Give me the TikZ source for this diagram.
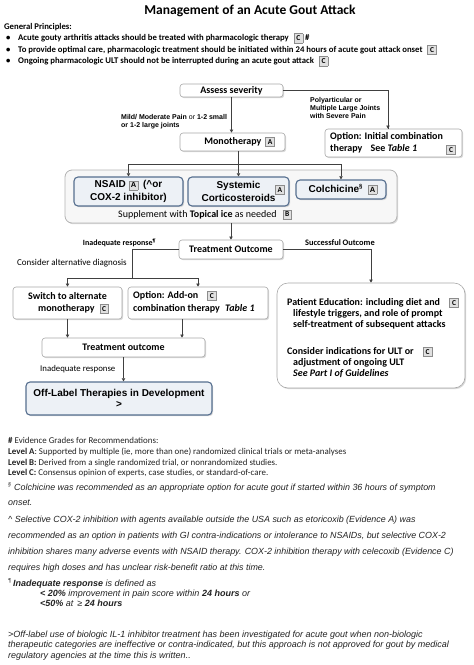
\documentclass[tikz,border=0pt]{standalone}
\usepackage{fontspec}
\setmainfont{Carlito}
\newfontfamily\arialf{Liberation Sans}
\usetikzlibrary{arrows.meta,shadows}
\definecolor{slateb}{HTML}{566F8F}
\definecolor{bluefill}{HTML}{EDF1F6}
\definecolor{contf}{HTML}{F7F7F7}
\definecolor{contb}{HTML}{B3B3B3}
\definecolor{boxb}{HTML}{A8A8A8}
\definecolor{conn}{HTML}{404040}
\definecolor{badgef}{HTML}{E0E0E0}
\definecolor{badgeb}{HTML}{8C8C8C}
\definecolor{fnote}{HTML}{222222}
\newcommand{\grd}[1]{{\setlength{\fboxsep}{0.8pt}\setlength{\fboxrule}{0.6pt}\fcolorbox{badgeb}{badgef}{\parbox[c][7pt][c]{6.5pt}{\centering\fontsize{7.5}{7.5}\selectfont\bfseries #1}}}}
\begin{document}
\begin{tikzpicture}[x=1pt,y=-1pt,
  shad/.style={drop shadow={shadow xshift=1.2pt,shadow yshift=-1.2pt,opacity=0.3}},
  rbox/.style={draw=boxb, line width=0.6pt, fill=white, rounded corners=3pt, shad, inner sep=1pt, align=center, font=\fontsize{10}{12.5}\selectfont\bfseries},
  bbox/.style={draw=slateb, line width=1.1pt, fill=bluefill, rounded corners=4pt, shad, inner sep=1pt, align=center, font=\arialf\fontsize{10}{12.5}\selectfont\bfseries},
  cont/.style={draw=contb, line width=0.8pt, fill=contf, rounded corners=7pt, shad},
  conn/.style={draw=conn, line width=0.8pt},
  arr/.style={conn, -{Triangle[length=3.2pt,width=3.4pt]}},
  badge/.style={inner sep=0pt},
  lbl/.style={inner sep=0pt, anchor=base west},
  bp/.style={lbl, font=\fontsize{8.7}{10}\selectfont\bfseries},
  smalla/.style={inner sep=0pt, anchor=north west, align=left, font=\arialf\fontsize{7}{8}\selectfont\bfseries},
  fnc/.style={lbl, text=fnote, font=\fontsize{8.9}{10}\selectfont},
  fna/.style={lbl, text=fnote, font=\arialf\fontsize{8.9}{10}\selectfont\itshape},
  fnb/.style={lbl, text=fnote, font=\arialf\fontsize{9}{10}\selectfont\itshape},
  pet/.style={lbl, font=\fontsize{10}{12}\selectfont\bfseries}
]
\useasboundingbox (0,0) rectangle (474,665);

% title and principles
\node[inner sep=0pt, font=\fontsize{13.5}{16}\selectfont\bfseries] (title) at (250,11) {Management of an Acute Gout Attack};
\node[bp] (gp) at (4,29) {General Principles:};
\node[bp] (k1) at (6,40.5) {•};
\node[bp] (p1) at (18,40.5) {Acute gouty arthritis attacks should be treated with pharmacologic therapy\hspace{5pt}\grd{C}\hspace{2pt}\#};
\node[bp] (k2) at (6,52) {•};
\node[bp] (p2) at (18,52) {To provide optimal care, pharmacologic treatment should be initiated within 24 hours of acute gout attack onset\hspace{5pt}\grd{C}};
\node[bp] (k3) at (6,63.5) {•};
\node[bp] (p3) at (18,63.5) {Ongoing pharmacologic ULT should not be interrupted during an acute gout attack\hspace{5pt}\grd{C}};

% severity
\node[rbox, minimum width=103pt, minimum height=13pt] (assess) at (231.5,90.5) {Assess severity};
\node[rbox, minimum width=105pt, minimum height=18pt] (mono) at (232.5,142) {\hspace{14pt}Monotherapy\hspace{4pt}\grd{A}};
\node[rbox, minimum width=137pt, minimum height=28pt] (opt) at (393.5,143) {};
\node[inner sep=0pt, anchor=north west, align=left, font=\fontsize{10}{12.5}\selectfont\bfseries] (optt) at (330,132) {Option: Initial combination\\therapy\hspace{6pt} See \textit{Table 1}};
\node[badge] (optb) at (451,150) {\grd{C}};
\node[smalla] (poly) at (310,97) {Polyarticular or\\Multiple Large Joints\\with Severe Pain};
\node[smalla] (mild) at (121,114) {Mild/ Moderate Pain \textmd{or} 1-2 small\\or 1-2 large joints};
\coordinate (optin) at (388,129);
\draw[conn] (assess.east) -| (optin);
\draw[arr] (optin) ++(0,-1) -- (opt.north -| optin);
\draw[arr] (assess.south) -- (assess.south |- mono.north);

% first-line therapies
\node[cont, minimum width=332pt, minimum height=53pt] (contain) at (231,196.5) {};
\node[bbox, minimum width=109pt, minimum height=29pt] (nsaid) at (128.5,191.5) {NSAID\hspace{3pt}\grd{A}\hspace{5pt}(\textasciicircum or\\COX-2 inhibitor)};
\node[bbox, minimum width=101pt, minimum height=29pt] (sys) at (238.5,191.5) {Systemic\\Corticosteroids};
\node[badge] (sysb) at (280,190) {\grd{A}};
\node[bbox, minimum width=90pt, minimum height=19pt] (colch) at (341,189.5) {\hspace{4pt}Colchicine\textsuperscript{\fontsize{6}{6}\selectfont§}\hspace{5pt}\grd{A}};
\node[inner sep=0pt, font=\fontsize{10}{11}\selectfont] (supp) at (205,214.5) {Supplement with \textbf{Topical ice} as needed\hspace{6pt}\grd{B}};
\coordinate (split) at (238.5,164);
\draw[conn] (sys.north |- mono.south) -- (split);
\draw[conn] (nsaid.north |- split) -- (colch.north |- split);
\draw[arr] (nsaid.north |- split) -- (nsaid.north);
\draw[arr] (split) -- (sys.north);
\draw[arr] (colch.north |- split) -- (colch.north);

% outcome
\node[rbox, minimum width=104pt, minimum height=19pt] (outc) at (231,249.5) {Treatment Outcome};
\draw[arr] (contain.south -| outc.north) -- (outc.north);
\node[inner sep=0pt, font=\fontsize{8}{10}\selectfont\bfseries] (inad) at (119.5,243) {Inadequate response\textsuperscript{\fontsize{5}{5}\selectfont¶}};
\node[inner sep=0pt, font=\fontsize{8.4}{10}\selectfont\bfseries] (succ) at (340,243) {Successful Outcome};
\node[inner sep=0pt, anchor=west, font=\fontsize{9}{10}\selectfont] (alt) at (17,263.5) {Consider alternative diagnosis};

% left branch
\node[rbox, minimum width=109pt, minimum height=32pt] (switch) at (67.5,303) {Switch to alternate\\\hspace{12pt}monotherapy\hspace{5pt}\grd{C}};
\node[rbox, minimum width=140pt, minimum height=32pt] (addon) at (198,303) {};
\node[inner sep=0pt, anchor=north west, align=left, font=\fontsize{10}{12.5}\selectfont\bfseries] (addont) at (133,291) {Option: Add-on\hspace{9pt}\grd{C}\\combination therapy\hspace{3pt} \textit{Table 1}};
\coordinate (lsplit) at (132,278);
\draw[conn] (outc.west) -| (lsplit);
\draw[conn] (switch.north |- lsplit) -- (addon.north |- lsplit);
\draw[arr] (switch.north |- lsplit) -- (switch.north);
\draw[arr] (addon.north |- lsplit) -- (addon.north);

\node[rbox, minimum width=163pt, minimum height=19pt] (tout) at (123.5,347.5) {Treatment outcome};
\coordinate (addonout) at (182,319);
\draw[arr] (switch.south) -- (switch.south |- tout.north);
\draw[arr] (addonout) -- (addonout |- tout.north);
\node[inner sep=0pt, anchor=west, font=\fontsize{8.8}{10}\selectfont] (inad2) at (40,369) {Inadequate response};
\node[bbox, minimum width=186pt, minimum height=33pt, font=\arialf\fontsize{10}{11}\selectfont\bfseries] (offl) at (119,398.5) {Off-Label Therapies in Development\\>};
\draw[arr] (tout.south) -- (tout.south |- offl.north);

% right branch
\node[rbox, rounded corners=11pt, minimum width=188pt, minimum height=105pt] (patient) at (371,335.5) {};
\draw[arr] (outc.east) -| (patient.north);
\node[pet] (pe1) at (287,305.5) {Patient Education: including diet and};
\node[pet] (pe2) at (293,316.5) {lifestyle triggers, and role of prompt};
\node[pet] (pe3) at (293,327.5) {self-treatment of subsequent attacks};
\node[badge] (peb) at (454,303) {\grd{C}};
\node[pet] (ci1) at (287,354.5) {Consider indications for ULT or};
\node[pet] (ci2) at (293,365.5) {adjustment of ongoing ULT};
\node[pet] (ci3) at (293,376.5) {\itshape See Part I of Guidelines};
\node[badge] (cib) at (427.5,352) {\grd{C}};

% footnotes
\node[fnc] (f0) at (8,443) {\textbf{\#} Evidence Grades for Recommendations:};
\node[fnc] (f1) at (8,454) {\textbf{Level A}: Supported by multiple (ie, more than one) randomized clinical trials or meta-analyses};
\node[fnc] (f2) at (8,465) {\textbf{Level B:} Derived from a single randomized trial, or nonrandomized studies.};
\node[fnc] (f3) at (8,475.5) {\textbf{Level C:} Consensus opinion of experts, case studies, or standard-of-care.};
\node[fna] (f4) at (8,490) {\textsuperscript{\fontsize{5.5}{5.5}\selectfont§} Colchicine was recommended as an appropriate option for acute gout if started within 36 hours of symptom};
\node[fna] (f5) at (8,505.5) {onset.};
\node[fna] (f6) at (8,522) {\textasciicircum{} Selective COX-2 inhibition with agents available outside the USA such as etoricoxib (Evidence A) was};
\node[fna] (f7) at (8,538) {recommended as an option in patients with GI contra-indications or intolerance to NSAIDs, but selective COX-2};
\node[fna] (f8) at (8,554) {inhibition shares many adverse events with NSAID therapy. COX-2 inhibition therapy with celecoxib (Evidence C)};
\node[fna] (f9) at (8,570) {requires high doses and has unclear risk-benefit ratio at this time.};
\node[fnb] (f10) at (8,586) {\textsuperscript{\fontsize{5.5}{5.5}\selectfont¶}\,\textbf{Inadequate response} is defined as};
\node[fnb] (f11) at (40,596.5) {\textbf{< 20\%} improvement in pain score within \textbf{24 hours} or};
\node[fnb] (f12) at (40,606.5) {\textbf{<50\%} at\, ≥ \textbf{24 hours}};
\node[fnb] (f13) at (8,637) {>Off-label use of biologic IL-1 inhibitor treatment has been investigated for acute gout when non-biologic};
\node[fnb] (f14) at (8,647.5) {therapeutic categories are ineffective or contra-indicated, but this approach is not approved for gout by medical};
\node[fnb] (f15) at (8,658) {regulatory agencies at the time this is written..};
\end{tikzpicture}
\end{document}
